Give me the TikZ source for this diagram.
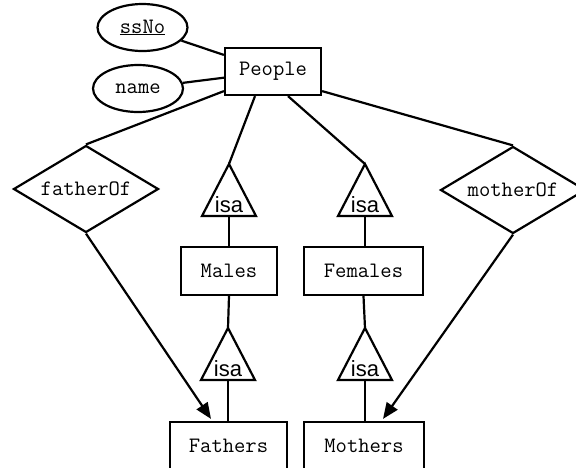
\documentclass[tikz,border=0pt]{standalone}
\usepackage{fontspec}
\newfontfamily\isafont{Liberation Sans}
\usetikzlibrary{shapes.geometric,arrows.meta,calc}
\begin{document}
\begin{tikzpicture}[x=1pt,y=-1pt,line width=2.2pt,
  txt/.style={font=\ttfamily\fontsize{22}{23}\selectfont},
  ent/.style={txt, draw, rectangle, inner sep=0pt},
  attr/.style={txt, draw, ellipse, inner sep=0pt, minimum width=90pt, minimum height=47pt},
  rel/.style={txt, draw, diamond, aspect=1.67, inner sep=0pt, minimum width=145pt, minimum height=87pt},
  isatext/.style={font=\isafont\fontsize{22}{23}\selectfont, inner sep=0pt, anchor=base},
  tri/.style={line join=miter},
  arr/.style={-{Triangle[length=16pt,width=13pt]}}
]
\useasboundingbox (0,0) rectangle (576,467);
\clip (0,0) rectangle (576,467);

% entities
\node[ent, minimum width=96pt, minimum height=47pt] (people) at (273,71.5) {People};
\node[ent, minimum width=96pt, minimum height=48pt] (males) at (229,271) {Males};
\node[ent, minimum width=119pt, minimum height=48pt] (females) at (363.5,271) {Females};
\node[ent, minimum width=117pt, minimum height=48pt] (fathers) at (228.5,446) {Fathers};
\node[ent, minimum width=120pt, minimum height=48pt] (mothers) at (364,446) {Mothers};

% attributes
\node[attr] (ssno) at (142.5,27.5) {\underline{ssNo}};
\node[attr] (name) at (138,88.5) {name};

% relationships
\node[rel] (fatherof) at (86,189) {fatherOf};
\node[rel] (motherof) at (513,190) {motherOf};

% isa triangles
\coordinate (isaM) at (229,164);
\coordinate (isaF) at (365,164);
\coordinate (isaFa) at (228,328);
\coordinate (isaMo) at (365,328);
\foreach \t in {isaM,isaF,isaFa,isaMo}{
  \draw[tri] (\t) -- ++(-27,52) -- ++(54,0) -- cycle;
  \coordinate (\t b) at ($(\t)+(0,52)$);
  \node[isatext] (\t t) at ($(\t)+(0,48.5)$) {isa};
}

% connectors
\draw (ssno) -- (people);
\draw (name) -- (people);
\draw ([yshift=5pt]people.south west) -- (fatherof.north);
\draw ([yshift=5pt]people.south east) -- (motherof.north);
\draw ([xshift=-18pt]people.south) -- (isaM);
\draw ([xshift=15pt]people.south) -- (isaF);
\draw (isaMb) -- (isaMb |- males.north);
\draw (isaFb) -- (isaFb |- females.north);
\draw (males.south) -- (isaFa);
\draw (females.south) -- (isaMo);
\draw (isaFab) -- (isaFab |- fathers.north);
\draw (isaMob) -- (isaMob |- mothers.north);
\draw[arr] (fatherof.south) -- ([xshift=-17.5pt,yshift=2pt]fathers.north);
\draw[arr] (motherof.south) -- ([xshift=19pt,yshift=2pt]mothers.north);
\end{tikzpicture}
\end{document}
